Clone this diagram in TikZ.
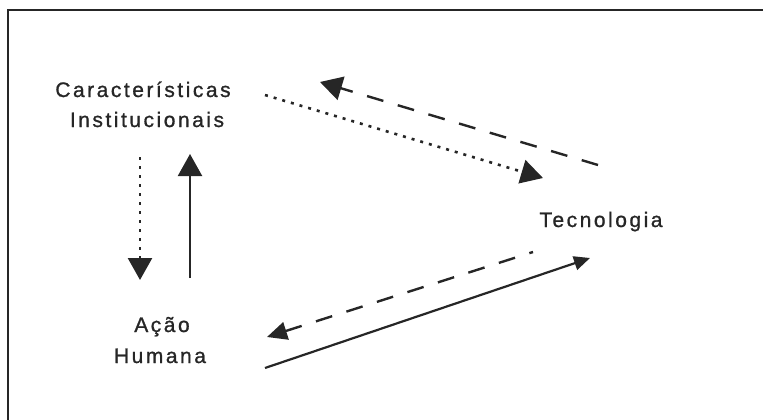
\documentclass[tikz,border=0pt]{standalone}
\usepackage{fontspec}
\setmainfont{Liberation Sans}[LetterSpace=12,FakeBold=1]
\usetikzlibrary{arrows.meta}
\begin{document}
\begin{tikzpicture}[x=1pt,y=-1pt,
  lbl/.style={inner sep=0pt,anchor=base,font=\fontsize{21}{23}\selectfont,text=black!85},
  bighead/.style={-{Triangle[length=22pt,width=24pt]}},
  smallhead/.style={-{Triangle[length=16pt,width=14pt]}},
  dotline/.style={line width=2.6pt,dash pattern=on 3pt off 6pt,black!85},
  dashline/.style={line width=2.4pt,dash pattern=on 17pt off 15pt,black!85},
  solidline/.style={line width=2.2pt,black!85}]
\useasboundingbox (0,0) rectangle (763,420);
\draw[line width=2pt,black!85] (8,440) -- (8,10) -- (780,10);
% labels
\node[lbl] (car1) at (143,97) {Características};
\node[lbl] (car2) at (147,127) {Institucionais};
\node[lbl] (tec) at (601,227) {Tecnologia};
\node[lbl] (acao) at (162,332) {Ação};
\node[lbl] (hum) at (160,363) {Humana};
% endpoints
\coordinate (a1s) at (265,95);  \coordinate (a1e) at (543,178);
\coordinate (a2s) at (598,165); \coordinate (a2e) at (320,82);
\coordinate (a3s) at (140,157); \coordinate (a3e) at (140,280);
\coordinate (a4s) at (190,278); \coordinate (a4e) at (190,154);
\coordinate (a5s) at (533,252); \coordinate (a5e) at (267,337);
\coordinate (a6s) at (265,368); \coordinate (a6e) at (590,258);
% connectors
\draw[dotline,bighead] (a1s) -- (a1e);
\draw[dashline,bighead] (a2s) -- (a2e);
\draw[dotline,bighead] (a3s) -- (a3e);
\draw[solidline,bighead] (a4s) -- (a4e);
\draw[dashline,{Triangle[length=20pt,width=18pt]}-] (a5e) -- (a5s);
\draw[solidline,smallhead] (a6s) -- (a6e);
\end{tikzpicture}
\end{document}
